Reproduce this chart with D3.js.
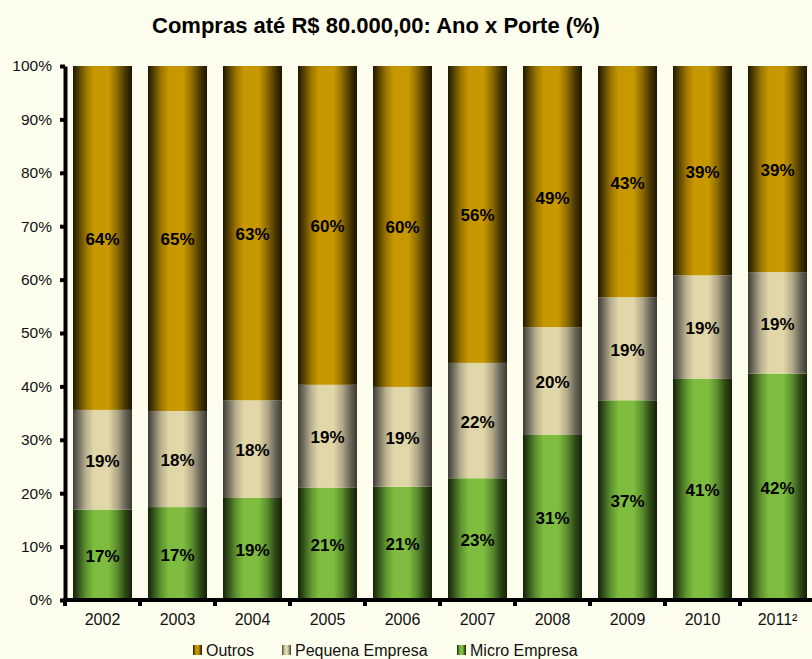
<!DOCTYPE html>
<html><head><meta charset="utf-8">
<script src="https://cdn.jsdelivr.net/npm/d3@7"></script>
<style>
html,body{margin:0;padding:0;background:#FEFEEE;}
svg{display:block;font-family:Arial,"Liberation Sans",sans-serif;}
</style></head>
<body>
<svg id="c" width="812" height="659"></svg>
<script>
const years = ["2002","2003","2004","2005","2006","2007","2008","2009","2010","2011²"];
const micro   = [16.9,17.4,19.1,21.0,21.2,22.8,30.9,37.4,41.4,42.4];
const pequena = [18.7,18.0,18.3,19.3,18.7,21.6,20.2,19.3,19.4,19.0];
const outros  = [64.4,64.6,62.6,59.7,60.1,55.6,48.9,43.3,39.2,38.6];
const yTicks = [0,10,20,30,40,50,60,70,80,90,100];
const seriesNames = ["Micro Empresa","Pequena Empresa","Outros"];
const legendOrder = ["Outros","Pequena Empresa","Micro Empresa"];

const svg = d3.select("#c");
const W = 812, H = 659;
svg.append("rect").attr("width",W).attr("height",H).attr("fill","#FEFEEE");

const x = d3.scaleBand().domain(years).range([65,815]).paddingInner(0.213).paddingOuter(0.1065);
const y = d3.scaleLinear().domain([0,100]).range([600,66]);

const defs = svg.append("defs");
const grads = {
  "Outros": [["0%","#1f1800"],["8%","#4a3a00"],["22%","#9a7400"],["35%","#c69700"],["60%","#c89800"],["75%","#8d6b00"],["88%","#4a3800"],["100%","#1c1500"]],
  "Pequena Empresa": [["0%","#3e3d34"],["8%","#6a665a"],["22%","#b8b08e"],["35%","#e0d6a8"],["60%","#e1d7a8"],["75%","#b1a988"],["88%","#6d695b"],["100%","#3c3b33"]],
  "Micro Empresa": [["0%","#15220a"],["8%","#2e4a17"],["22%","#5e9330"],["35%","#7dbc3e"],["60%","#7ebd3f"],["75%","#5b8e2e"],["88%","#2f4b17"],["100%","#142009"]]
};
const gid = {"Outros":"gO","Pequena Empresa":"gP","Micro Empresa":"gM"};
Object.keys(grads).forEach(k=>{
  const g = defs.append("linearGradient").attr("id",gid[k]).attr("x1","0").attr("x2","1").attr("y1","0").attr("y2","0");
  grads[k].forEach(s=>g.append("stop").attr("offset",s[0]).attr("stop-color",s[1]));
});

const rows = years.map((yr,i)=>({year:yr,"Micro Empresa":micro[i],"Pequena Empresa":pequena[i],"Outros":outros[i]}));
const stack = d3.stack().keys(seriesNames)(rows);

const gBars = svg.append("g");
stack.forEach(layer=>{
  const key = layer.key;
  const g = gBars.append("g");
  g.selectAll("rect").data(layer).join("rect")
    .attr("x",d=>x(d.data.year))
    .attr("width",x.bandwidth())
    .attr("y",d=>y(d[1]))
    .attr("height",d=>y(d[0])-y(d[1]))
    .attr("fill","url(#"+gid[key]+")");
  g.selectAll("text").data(layer).join("text")
    .attr("x",d=>x(d.data.year)+x.bandwidth()/2)
    .attr("y",d=>(y(d[0])+y(d[1]))/2+7)
    .attr("text-anchor","middle")
    .attr("font-size","17px").attr("font-weight","bold").attr("fill","#000")
    .text(d=>Math.round(d[1]-d[0])+"%");
});

// Y axis
const yAxis = svg.append("g").attr("transform","translate(65,0)")
  .call(d3.axisLeft(y).tickValues(yTicks).tickFormat(d=>d+"%").tickSize(5).tickSizeOuter(0).tickPadding(8));
yAxis.select(".domain").attr("stroke","#000").attr("stroke-width",4);
yAxis.selectAll(".tick line").attr("stroke","#000").attr("stroke-width",4);
yAxis.selectAll(".tick text").attr("font-size","15.5px").attr("fill","#111").attr("font-family","Arial,'Liberation Sans',sans-serif");

// X axis
const xAxis = svg.append("g").attr("transform","translate(0,600)")
  .call(d3.axisBottom(x).tickSize(0).tickPadding(14).tickSizeOuter(0));
xAxis.select(".domain").remove();
xAxis.selectAll(".tick text").attr("font-size","16px").attr("fill","#111").attr("font-family","Arial,'Liberation Sans',sans-serif");
svg.append("line").attr("x1",63).attr("x2",W).attr("y1",600).attr("y2",600).attr("stroke","#000").attr("stroke-width",4);
const bounds = years.map(yr=>x(yr)-x.step()*x.paddingOuter());
svg.append("g").selectAll("line").data(bounds).join("line")
  .attr("x1",d=>d).attr("x2",d=>d).attr("y1",600).attr("y2",606)
  .attr("stroke","#000").attr("stroke-width",4);

// Title
svg.append("text").attr("x",376).attr("y",33).attr("text-anchor","middle")
  .attr("font-size","22px").attr("font-weight","bold").attr("fill","#000")
  .text("Compras até R$ 80.000,00: Ano x Porte (%)");

// Legend
const legX = [193,282,457];
const leg = svg.append("g");
legendOrder.forEach((name,i)=>{
  leg.append("rect").attr("x",legX[i]).attr("y",645).attr("width",9).attr("height",10).attr("fill","url(#"+gid[name]+")");
  leg.append("text").attr("x",legX[i]+13).attr("y",656).attr("font-size","16px").attr("fill","#111").text(name);
});
</script>
</body></html>
